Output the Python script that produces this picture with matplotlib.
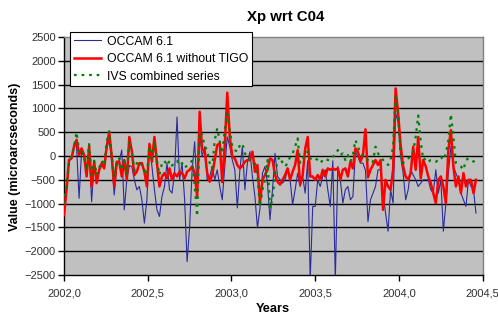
import numpy as np
import matplotlib
matplotlib.use("Agg")
import matplotlib.pyplot as plt

plt.rcParams['font.family'] = ['Liberation Sans', 'DejaVu Sans']

# ---------------- data ----------------
start_year = 2002.0
step_year = 0.015

occam = [
    -900, -700, -100, -50, 250, 200, -890, 100, 0, -400,
    150, -960, -150, -550, -300, -200, -250, 150, 350, -100,
    -820, -200, -100, 125, -1130, -500, -200, -220, -500, -710,
    -640, -920, -1410, -920, 270, -220, -710, -1130, -1270, -850,
    -640, -150, -710, -780, -360, 820, -500, -150, -900, -2220,
    -1500, -300, 300, -710, 500, -15, 195, -500, -430, -220,
    -500, -290, -640, -920, -220, 400, 195, -85, -290, -1090,
    -300, 195, -710, -150, 90, -430, -850, -1510, -1100, -360,
    -220, -570, -1340, -710, 55, -430, -500, -570, -500, -290,
    -500, -1020, -710, -360, -640, -430, -780, -100, -2600, -1060,
    -1060, -500, -640, -430, -290, -710, -1060, -100, -2600, -220,
    -500, -990, -710, -640, -920, -850, 90, -15, -150, -150,
    -300, -1380, -920, -780, -640, -290, -290, -780, -1200, -1580,
    -710, -990, 900, 700, -15, -360, -920, -710, -290, -400,
    -500, -640, -570, -500, -500, -500, -710, -780, -290, -780,
    -500, -1580, -1000, -360, 195, -220, -360, -500, -780, -920,
    -1060, -500, -640, -710, -1200,
]

occam_no_tigo = [
    -1240, -710, -85, -50, 200, 340, 20, 160, 20, -430,
    200, -640, -120, -570, -290, -150, -260, 200, 500, -15,
    -640, -120, -120, -430, -85, -500, 400, 100, -400, -330,
    -150, -150, -330, -640, 250, -120, 400, -150, -640, -430,
    -360, -470, -260, -500, -360, -430, -330, -360, -470, -330,
    -290, -220, -360, -850, 930, 125, 125, -360, -540, -400,
    -85, 230, 265, -550, 230, 1330, 400, -15, -50, -190,
    -260, -210, -120, -85, -85, 90, -330, -190, -990, -500,
    -400, -290, -50, -85, -400, -540, -600, -500, -400, -260,
    -500, -330, -190, 125, -600, -400, 150, 400, -430, -430,
    -500, -400, -500, -290, -430, -260, -290, -260, -290, -260,
    -500, -290, -260, -430, -120, -260, 160, 90, -120, 20,
    560, -450, -290, -190, -85, -190, -85, -1130, -500, -640,
    -710, -290, 1420, 900, 230, -220, -430, -500, -360, 195,
    -290, 400, -470, -85, -220, -430, -570, -780, -990, -500,
    -430, -640, -990, 125, 545, -220, -640, -430, -780, -360,
    -640, -500, -500, -780, -500,
]

ivs_combined = [
    -1000, -600, -150, 0, 200, 500, 100, 150, 0, -300,
    250, -400, -100, -400, -250, -100, -200, 300, 520, 0,
    -450, -100, -50, -300, -100, -400, 300, 100, -300, -150,
    -100, -200, -300, -400, 200, -50, 300, -100, -400, -150,
    -100, -200, -100, -200, -150, -100, -200, -150, -250, -200,
    -150, -100, -600, -1270, 500, 450, 200, 125, -150, -260,
    335, 580, 300, 55, 540, 890, 540, 195, 125, 90,
    230, 265, 55, -15, -85, -120, -150, -430, -1060, -710,
    -500, -85, -1100, -900, -400, -85, -15, -150, -220, -150,
    -15, 55, 195, 370, -150, -85, 55, 90, -50, -85,
    -50, -85, -150, -85, -50, -85, -85, -15, 20, 125,
    20, 55, -85, 20, -120, 20, 335, 195, 55, -15,
    -85, -85, -150, -120, 195, 55, -15, -85, -150, -190,
    -85, 195, 1240, 900, -15, -150, -85, -50, -15, 90,
    400, 850, 300, -85, -50, -120, -85, -85, -120, -85,
    -15, -85, 55, 335, 880, 400, -150, -190, -220, -290,
    -85, -50, -85, -120, -50,
]

x_ticks = [2002.0, 2002.5, 2003.0, 2003.5, 2004.0, 2004.5]
x_tick_labels = ["2002,0", "2002,5", "2003,0", "2003,5", "2004,0", "2004,5"]
y_ticks = [-2500, -2000, -1500, -1000, -500, 0, 500, 1000, 1500, 2000, 2500]

series_names = ["OCCAM 6.1", "OCCAM 6.1 without TIGO", "IVS combined series"]
title = "Xp wrt C04"
x_label = "Years"
y_label = "Value (microarcseconds)"

# ---------------- plot ----------------
years = start_year + step_year * np.arange(len(occam))

W, H = 498, 318
fig = plt.figure(figsize=(W / 100, H / 100), dpi=100)
fig.patch.set_facecolor("white")
ax = fig.add_axes([64 / W, 1 - 275 / H, (482.7 - 64) / W, (275 - 37) / H])
ax.set_facecolor("#c0c0c0")

ax.plot(years, occam, color="#2b2b9a", lw=0.8, label=series_names[0], zorder=3)
ax.plot(years, occam_no_tigo, color="#ff0000", lw=1.8, label=series_names[1], zorder=4)
ax.plot(years, ivs_combined, color="#008000", lw=1.6, ls=(0, (1.2, 2.2)),
        label=series_names[2], zorder=5)

ax.set_xlim(x_ticks[0], x_ticks[-1])
ax.set_ylim(y_ticks[0], y_ticks[-1])
ax.set_xticks(x_ticks)
ax.set_xticklabels(x_tick_labels)
ax.set_yticks(y_ticks)
for yv in y_ticks[1:-1]:
    ax.axhline(yv, color="black", lw=1.0, zorder=1)

ax.tick_params(axis="both", direction="out", length=4, width=1, color="#000000",
               labelsize=8.0, labelcolor="#303030")
ax.tick_params(axis="x", pad=6)
ax.tick_params(axis="y", pad=2)
for s in ["top", "right"]:
    ax.spines[s].set_color("#808080")
    ax.spines[s].set_linewidth(1.0)
for s in ["left", "bottom"]:
    ax.spines[s].set_color("#000000")
    ax.spines[s].set_linewidth(1.0)

fig.text(285.5 / W, 1 - 17 / H, title, ha="center", va="center",
         fontsize=10.8, fontweight="bold")
fig.text(273 / W, 1 - 309 / H, x_label, ha="center", va="center",
         fontsize=9.2, fontweight="bold")
fig.text(15 / W, 1 - 156.5 / H, y_label, ha="center", va="center",
         rotation=90, fontsize=9.0, fontweight="bold")

leg = ax.legend(loc="upper left", bbox_to_anchor=(70 / W, 1 - 32 / H),
                bbox_transform=fig.transFigure, fontsize=8.8, frameon=True,
                fancybox=False, framealpha=1.0, edgecolor="#000000",
                handlelength=2.2, handletextpad=0.5, labelspacing=0.45,
                borderpad=0.3, borderaxespad=0.0)
leg.get_frame().set_linewidth(0.8)
leg.set_zorder(10)

fig.savefig("out.png", dpi=100, facecolor="white")
